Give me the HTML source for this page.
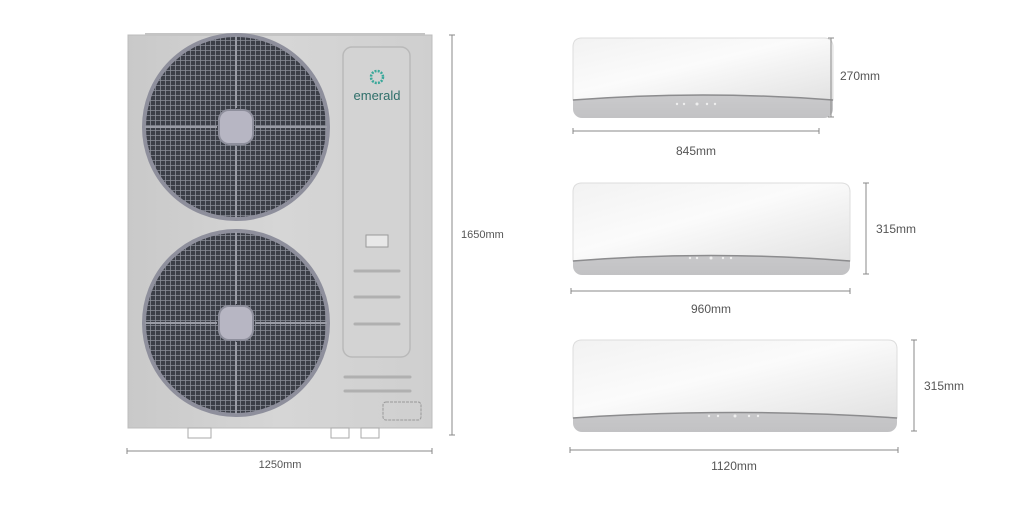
<!DOCTYPE html>
<html><head><meta charset="utf-8"><style>
html,body{margin:0;padding:0;background:#fff;width:1024px;height:512px;overflow:hidden}
svg text{font-family:"Liberation Sans",sans-serif;fill:#555}
</style></head><body>
<svg width="1024" height="512" viewBox="0 0 1024 512" xmlns="http://www.w3.org/2000/svg">
<defs>
<pattern id="grill" width="5" height="5" patternUnits="userSpaceOnUse">
<rect width="5" height="5" fill="#3b3e47"/>
<path d="M0 0.5H5M0.5 0V5" stroke="#8a8e98" stroke-width="0.8"/>
</pattern>
<linearGradient id="body" x1="0" y1="0" x2="1" y2="0">
<stop offset="0" stop-color="#c9c9c9"/><stop offset="0.5" stop-color="#d6d6d6"/><stop offset="1" stop-color="#cfcfcf"/>
</linearGradient>
<linearGradient id="cover" x1="0" y1="0" x2="1" y2="1">
<stop offset="0" stop-color="#f2f2f2"/><stop offset="0.45" stop-color="#fbfbfb"/><stop offset="1" stop-color="#e2e2e2"/>
</linearGradient>
<linearGradient id="band" x1="0" y1="0" x2="0" y2="1">
<stop offset="0" stop-color="#a9a9ab"/><stop offset="0.3" stop-color="#d5d5d7"/><stop offset="1" stop-color="#c2c2c4"/>
</linearGradient>
</defs>

<!-- outdoor unit -->
<rect x="128" y="35" width="304" height="393" fill="url(#body)" stroke="#bcbcbc"/>
<rect x="145" y="33" width="280" height="3" fill="#c4c4c4"/>
<g>
<circle cx="236" cy="127" r="92" fill="url(#grill)" stroke="#8e8f9c" stroke-width="4"/>
<path d="M236 36V108M236 146V218M145 127H217M255 127H327" stroke="#9a9ca6" stroke-width="2"/>
<rect x="219" y="110" width="34" height="34" rx="10" fill="#b7b6c3" stroke="#8e8f9c" stroke-width="2"/>
<circle cx="236" cy="323" r="92" fill="url(#grill)" stroke="#8e8f9c" stroke-width="4"/>
<path d="M236 232V304M236 342V414M145 323H217M255 323H327" stroke="#9a9ca6" stroke-width="2"/>
<rect x="219" y="306" width="34" height="34" rx="10" fill="#b7b6c3" stroke="#8e8f9c" stroke-width="2"/>
</g>
<rect x="343" y="47" width="67" height="310" rx="9" fill="#d3d3d3" stroke="#b9b9b9" stroke-width="1.5"/>
<circle cx="377" cy="77" r="6" fill="none" stroke="#3aa89a" stroke-width="2.5" stroke-dasharray="2 1.2"/>
<text x="377" y="100" font-size="13" text-anchor="middle" style="fill:#2f6f6a">emerald</text>
<rect x="366" y="235" width="22" height="12" fill="#e8e8e8" stroke="#9a9a9a"/>
<g fill="none" stroke="#b0b0b0" stroke-width="3" stroke-linecap="round">
<path d="M355 271H399M355 297H399M355 324H399"/>
<path d="M345 377H410M345 391H410"/>
</g>
<rect x="383" y="402" width="38" height="18" rx="3" fill="none" stroke="#999" stroke-dasharray="3 1"/>
<rect x="188" y="428" width="23" height="10" fill="#fff" stroke="#aaa"/>
<rect x="331" y="428" width="18" height="10" fill="#fff" stroke="#aaa"/>
<rect x="361" y="428" width="18" height="10" fill="#fff" stroke="#aaa"/>

<!-- outdoor dims -->
<g stroke="#888" stroke-width="1">
<path d="M452 35V435M449 35H455M449 435H455"/>
<path d="M127 451H432M127 448V454M432 448V454"/>
</g>
<text x="461" y="238" font-size="11">1650mm</text>
<text x="280" y="468" font-size="11" text-anchor="middle">1250mm</text>

<!-- indoor 1 -->
<rect x="573" y="38" width="260" height="80" rx="9" fill="url(#band)"/>
<path d="M573 100V47Q573 38 582 38H824Q833 38 833 47V100Q703 90 573 100Z" fill="url(#cover)" stroke="#ddd"/>
<path d="M573 100Q703 90 833 100" stroke="#8c8c8e" stroke-width="1.5" fill="none"/>
<g fill="#eee"><circle cx="677" cy="104" r="1.2"/><circle cx="684" cy="104" r="1.2"/><circle cx="697" cy="104" r="1.5"/><circle cx="707" cy="104" r="1.2"/><circle cx="715" cy="104" r="1.2"/></g>
<g stroke="#888"><path d="M831 38V117M828 38H834M828 117H834"/><path d="M573 131H819M573 128V134M819 128V134"/></g>
<text x="840" y="80" font-size="12">270mm</text>
<text x="696" y="155" font-size="12" text-anchor="middle">845mm</text>

<!-- indoor 2 -->
<rect x="573" y="183" width="277" height="92" rx="9" fill="url(#band)"/>
<path d="M573 261V192Q573 183 582 183H841Q850 183 850 192V261Q711 250 573 261Z" fill="url(#cover)" stroke="#ddd"/>
<path d="M573 261Q711 250 850 261" stroke="#8c8c8e" stroke-width="1.5" fill="none"/>
<g fill="#eee"><circle cx="690" cy="258" r="1.2"/><circle cx="697" cy="258" r="1.2"/><circle cx="711" cy="258" r="1.5"/><circle cx="723" cy="258" r="1.2"/><circle cx="731" cy="258" r="1.2"/></g>
<g stroke="#888"><path d="M866 183V274M863 183H869M863 274H869"/><path d="M571 291H850M571 288V294M850 288V294"/></g>
<text x="876" y="233" font-size="12">315mm</text>
<text x="711" y="313" font-size="12" text-anchor="middle">960mm</text>

<!-- indoor 3 -->
<rect x="573" y="340" width="324" height="92" rx="9" fill="url(#band)"/>
<path d="M573 418V349Q573 340 582 340H888Q897 340 897 349V418Q735 407 573 418Z" fill="url(#cover)" stroke="#ddd"/>
<path d="M573 418Q735 407 897 418" stroke="#8c8c8e" stroke-width="1.5" fill="none"/>
<g fill="#eee"><circle cx="709" cy="416" r="1.2"/><circle cx="718" cy="416" r="1.2"/><circle cx="735" cy="416" r="1.5"/><circle cx="749" cy="416" r="1.2"/><circle cx="758" cy="416" r="1.2"/></g>
<g stroke="#888"><path d="M914 340V431M911 340H917M911 431H917"/><path d="M570 450H898M570 447V453M898 447V453"/></g>
<text x="924" y="390" font-size="12">315mm</text>
<text x="734" y="470" font-size="12" text-anchor="middle">1120mm</text>
</svg>
</body></html>
